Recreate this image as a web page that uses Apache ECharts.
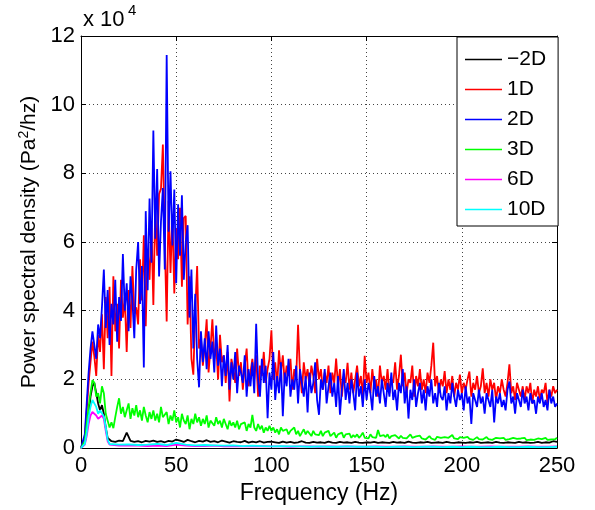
<!DOCTYPE html>
<html><head><meta charset="utf-8">
<script src="https://cdn.jsdelivr.net/npm/echarts@6/dist/echarts.min.js"></script>
<style>html,body{margin:0;padding:0;background:#fff}#c{width:595px;height:510px}</style>
</head><body><div id="c"></div>
<script>
// values in units of 1e4 Pa^2/Hz
var seriesNames = ['\u22122D', '1D', '2D', '3D', '6D', '10D'];
var xTicks = [0, 50, 100, 150, 200, 250];
var yTicks = [0, 2, 4, 6, 8, 10, 12];

// 1 Hz grid for 1D, 2D, 3D
var freqFine = [];
for (var i = 0; i <= 250; i++) freqFine.push(i);

var psd2D = [
0,0.05,0.4,1.3,2.2,2.9,3.4,3.0,2.6,3.6,
3.2,4.1,5.2,3.5,4.6,3.0,4.2,3.6,4.9,3.1,
4.4,3.7,5.65,4.0,4.8,3.4,5.0,4.3,3.2,5.2,
6.0,4.2,5.3,2.35,6.9,4.6,7.27,5.4,9.25,6.1,
8.13,5.0,6.6,7.57,5.2,11.45,6.3,8.06,5.9,7.53,
4.8,7.1,5.6,7.36,4.9,6.0,6.49,3.8,5.2,2.9,
4.49,2.6,1.77,3.4,2.5,3.2,2.3,3.4,2.6,3.1,
2.2,3.57,2.4,2.9,1.8,2.7,2.1,3.0,1.7,2.5,
2.0,2.8,1.6,2.4,2.2,1.9,2.7,1.5,2.3,1.8,
2.5,1.6,3.62,2.0,1.5,2.6,1.9,2.4,0.87,2.2,
1.7,2.8,1.4,2.1,1.6,2.5,0.93,2.2,1.8,2.6,
1.5,2.0,1.7,2.4,1.3,2.3,1.9,1.5,2.1,1.04,
2.2,1.6,1.9,2.5,1.4,0.97,2.0,1.7,2.3,1.3,
1.8,2.2,1.5,1.9,1.2,2.1,0.97,1.7,2.3,1.4,
1.9,1.3,2.0,1.6,1.1,2.2,1.5,1.8,1.2,2.0,
1.4,1.9,1.6,1.1,2.1,1.5,1.8,1.3,2.0,1.6,
1.2,1.9,1.5,2.2,1.4,1.7,1.1,1.9,1.6,2.3,
1.3,1.8,0.86,1.7,1.4,2.0,1.2,1.6,1.9,1.3,
1.7,1.1,1.8,1.5,2.0,1.3,1.6,1.2,1.9,1.5,
1.4,1.8,1.1,1.6,1.3,1.9,1.5,1.2,1.7,1.4,
1.6,1.1,1.8,1.3,1.5,0.7,1.6,1.4,1.2,1.7,
1.3,1.5,1.0,1.6,1.4,1.2,1.7,0.75,1.5,1.3,
1.6,1.2,1.4,1.1,1.7,1.94,1.3,1.5,1.0,1.6,
1.4,1.2,1.7,1.3,1.5,1.1,1.6,1.3,1.4,1.0,
1.5,1.3,1.6,1.2,1.4,1.1,1.7,1.3,1.5,1.2,
1.3];

var psd1D = [
0,0.04,0.3,1.1,1.9,2.5,3.1,2.67,2.1,3.3,
2.8,3.9,2.3,4.4,3.2,4.7,2.1,5.0,3.4,4.2,
2.9,4.9,3.8,4.4,2.8,4.6,3.5,5.3,3.9,4.1,
3.6,5.5,4.3,6.2,3.55,5.8,4.9,6.5,4.17,7.0,
5.6,7.4,7.55,8.84,6.0,3.69,7.2,5.1,6.8,4.5,
6.4,5.5,7.0,4.7,6.7,6.76,3.6,5.0,2.6,2.14,
4.0,5.3,2.9,3.2,2.4,3.0,3.75,2.2,2.9,3.75,
2.6,3.0,2.0,3.3,2.5,2.7,1.9,2.8,1.36,2.6,
2.3,1.9,2.9,2.1,2.5,1.7,2.4,2.9,1.8,2.2,
2.6,2.0,2.7,1.5,2.4,2.1,2.8,1.9,2.3,2.6,
3.43,2.0,2.5,1.8,2.85,2.2,2.7,1.9,2.4,2.1,
2.6,1.7,2.3,2.0,3.59,2.2,1.6,2.5,2.0,2.3,
1.8,2.4,2.1,1.6,2.6,2.0,2.3,1.7,2.2,1.9,
2.4,1.6,2.2,1.9,2.61,1.8,2.3,1.5,2.1,1.9,
2.48,1.7,2.2,1.6,2.0,2.4,1.8,2.1,1.5,2.69,
1.9,2.2,1.6,2.3,1.8,2.0,1.5,2.4,1.9,2.1,
1.7,2.3,1.6,2.0,1.9,2.5,1.7,2.1,2.72,1.8,
2.2,1.6,2.0,1.9,2.4,1.5,2.1,1.8,2.3,1.7,
2.0,1.6,2.2,1.9,2.4,3.07,1.8,2.1,1.6,2.0,
1.8,2.24,1.6,2.0,1.7,2.1,1.5,1.9,1.7,2.14,
1.6,1.9,1.7,2.0,2.23,1.5,1.9,1.7,2.1,1.6,
1.8,2.32,1.6,1.9,1.5,2.0,1.7,1.9,1.4,1.8,
1.6,2.0,1.7,1.5,1.9,2.44,1.6,1.8,1.4,1.9,
1.7,1.5,1.8,1.4,1.8,1.6,1.9,1.3,1.7,1.5,
1.8,1.4,1.7,1.6,1.9,1.3,1.7,1.5,1.8,1.6,
1.7];

var psd3D = [
0,0.02,0.2,0.7,1.2,1.6,1.98,1.9,1.5,1.6,
1.3,1.8,1.6,1.0,0.8,0.6,0.75,0.58,0.9,1.2,
1.45,1.0,1.2,0.9,1.1,1.3,0.85,1.16,0.95,1.25,
0.9,1.1,0.8,1.2,0.95,0.75,1.05,0.85,1.1,0.8,
1.0,0.75,1.2,0.9,0.85,1.05,0.7,0.95,0.8,1.1,
0.75,0.9,0.6,1.0,0.8,0.7,0.95,0.55,0.85,0.7,
1.0,0.75,0.9,0.65,0.85,0.7,0.95,0.6,0.8,0.75,
0.65,0.9,0.7,0.8,0.6,0.85,0.7,0.55,0.8,0.65,
0.75,0.6,0.8,0.55,0.7,0.65,0.75,0.5,0.7,0.6,
0.97,0.6,0.5,0.7,0.55,0.65,0.45,0.6,0.5,0.65,
0.5,0.6,0.45,0.55,0.4,0.6,0.5,0.45,0.55,0.4,
0.5,0.45,0.6,0.4,0.5,0.35,0.45,0.55,0.4,0.5,
0.45,0.35,0.5,0.4,0.45,0.38,0.5,0.35,0.45,0.4,
0.5,0.35,0.4,0.45,0.3,0.4,0.35,0.45,0.3,0.4,
0.35,0.42,0.3,0.38,0.32,0.4,0.3,0.36,0.45,0.3,
0.35,0.28,0.4,0.32,0.36,0.3,0.53,0.35,0.3,0.38,
0.32,0.4,0.28,0.35,0.3,0.38,0.33,0.28,0.36,0.3,
0.35,0.28,0.32,0.4,0.3,0.26,0.34,0.3,0.36,0.28,
0.32,0.25,0.3,0.35,0.28,0.3,0.24,0.33,0.28,0.3,
0.26,0.32,0.28,0.3,0.25,0.38,0.28,0.3,0.26,0.32,
0.28,0.3,0.25,0.33,0.27,0.3,0.24,0.29,0.32,0.26,
0.3,0.25,0.28,0.32,0.26,0.3,0.24,0.28,0.3,0.25,
0.28,0.26,0.3,0.24,0.28,0.26,0.22,0.3,0.25,0.27,
0.24,0.28,0.26,0.3,0.23,0.27,0.25,0.28,0.24,0.26,
0.28,0.23,0.26,0.25,0.3,0.24,0.27,0.25,0.28,0.26,
0.3];

// -2D: 1 Hz up to 14 Hz, then every 2 Hz
var freqM2D = [0,1,2,3,4,5,6,7,8,9,10,11,12,13,14];
for (var f = 16; f <= 250; f += 2) freqM2D.push(f);
var psdM2D = [
0,0.02,0.15,0.5,1.0,1.5,1.8,1.9,1.6,1.3,1.1,1.25,1.0,0.6,0.3,
0.2,0.18,0.22,0.2,0.45,0.21,0.18,0.2,0.17,0.21,0.19,0.22,0.18,0.2,0.17,0.21,0.19,0.25,
0.22,0.18,0.24,0.2,0.17,0.21,0.19,0.23,0.18,0.2,0.17,0.22,0.19,0.16,0.2,0.18,0.17,0.21,0.16,0.19,0.17,0.2,0.16,0.18,0.19,
0.17,0.15,0.19,0.16,0.18,0.15,0.17,0.2,0.16,0.15,0.18,0.16,0.17,0.15,0.19,0.16,0.15,0.18,0.16,0.17,0.15,0.18,0.16,0.15,0.17,
0.16,0.18,0.15,0.17,0.16,0.15,0.18,0.16,0.17,0.15,0.19,0.16,0.15,0.17,0.16,0.18,0.15,0.16,0.17,0.15,0.18,0.16,0.15,0.17,0.16,
0.15,0.17,0.16,0.18,0.15,0.16,0.17,0.15,0.18,0.16,0.15,0.17,0.16,0.15,0.18,0.16,0.17,0.15,0.16,0.18,0.15,0.17,0.16,0.2,0.18];

// 6D and 10D: 1 Hz up to 16 Hz, then every 5 Hz
var freqCoarse = [0,1,2,3,4,5,6,7,8,9,10,11,12,13,14,15,16];
for (var g = 20; g <= 250; g += 5) freqCoarse.push(g);
var psd6D = [
0,0.02,0.1,0.35,0.7,0.95,1.05,1.07,0.95,0.85,0.9,0.95,0.85,0.5,0.2,0.1,0.08,
0.07,0.08,0.07,0.06,0.07,0.06,0.1,0.07,0.06,0.06,0.07,0.05,0.06,0.05,0.05,0.06,
0.05,0.05,0.04,0.05,0.05,0.04,0.05,0.04,0.05,0.04,0.04,0.05,0.04,0.04,0.05,0.04,
0.04,0.05,0.04,0.04,0.05,0.04,0.04,0.05,0.04,0.04,0.04,0.05,0.04,0.04,0.05];
var psd10D = [
0,0.02,0.12,0.45,0.9,1.2,1.4,1.45,1.2,1.0,1.1,1.05,0.93,0.6,0.25,0.12,0.1,
0.1,0.11,0.09,0.1,0.12,0.09,0.15,0.1,0.08,0.09,0.08,0.07,0.08,0.06,0.07,0.06,
0.05,0.06,0.05,0.05,0.04,0.05,0.04,0.04,0.05,0.04,0.04,0.04,0.03,0.04,0.04,0.03,
0.04,0.04,0.03,0.04,0.03,0.04,0.03,0.03,0.04,0.03,0.03,0.04,0.03,0.03,0.04];

function pairs(xs, ys) {
  var out = [];
  for (var k = 0; k < ys.length && k < xs.length; k++) out.push([xs[k], ys[k]]);
  return out;
}

var colors = ['#000000', '#ff0000', '#0000ff', '#00ff00', '#ff00ff', '#00ffff'];
var dataSets = [
  pairs(freqM2D, psdM2D), pairs(freqFine, psd1D), pairs(freqFine, psd2D),
  pairs(freqFine, psd3D), pairs(freqCoarse, psd6D), pairs(freqCoarse, psd10D)
];

var FONT = '"Liberation Sans", Arial, Helvetica, sans-serif';
var series = seriesNames.map(function (n, idx) {
  return {
    name: n, type: 'line', data: dataSets[idx], symbol: 'none', showSymbol: false,
    color: colors[idx],
    lineStyle: { color: colors[idx], width: 1.8 }, itemStyle: { color: colors[idx] },
    animation: false, z: 2 + idx
  };
});

var chart = echarts.init(document.getElementById('c'), null, { renderer: 'canvas' });
chart.setOption({
  backgroundColor: '#fff',
  animation: false,
  color: colors,
  grid: { left: 81, right: 38, top: 36, bottom: 60, show: false },
  xAxis: [{
    type: 'value', min: xTicks[0], max: xTicks[xTicks.length - 1], interval: 50,
    name: 'Frequency (Hz)', nameLocation: 'middle', nameGap: 28,
    nameTextStyle: { fontFamily: FONT, fontSize: 23, color: '#000' },
    axisLine: { show: true, onZero: false, lineStyle: { color: '#000', width: 1 } },
    axisTick: { show: true, inside: true, length: 5, lineStyle: { color: '#000' } },
    axisLabel: { fontFamily: FONT, fontSize: 22, color: '#000', margin: 7 },
    splitLine: { show: true, lineStyle: { color: '#444', type: [1, 3], width: 1 } }
  }, {
    type: 'value', position: 'top', min: 0, max: 250, interval: 50,
    axisLine: { show: true, onZero: false, lineStyle: { color: '#000', width: 1 } },
    axisTick: { show: true, inside: true, length: 5, lineStyle: { color: '#000' } },
    axisLabel: { show: false }, splitLine: { show: false }
  }],
  yAxis: [{
    type: 'value', min: yTicks[0], max: yTicks[yTicks.length - 1], interval: 2,
    name: 'Power spectral density (Pa{sup|2}/hz)', nameLocation: 'middle', nameGap: 29,
    nameTextStyle: { fontFamily: FONT, fontSize: 21, color: '#000',
      rich: { sup: { fontFamily: FONT, fontSize: 14, color: '#000', verticalAlign: 'top', padding: [0, 0, 9, 0] } } },
    axisLine: { show: true, onZero: false, lineStyle: { color: '#000', width: 1 } },
    axisTick: { show: true, inside: true, length: 5, lineStyle: { color: '#000' } },
    axisLabel: { fontFamily: FONT, fontSize: 22, color: '#000', margin: 6 },
    splitLine: { show: true, lineStyle: { color: '#444', type: [1, 3], width: 1 } }
  }, {
    type: 'value', position: 'right', min: 0, max: 12, interval: 2,
    axisLine: { show: true, onZero: false, lineStyle: { color: '#000', width: 1 } },
    axisTick: { show: true, inside: true, length: 5, lineStyle: { color: '#000' } },
    axisLabel: { show: false }, splitLine: { show: false }
  }],
  legend: {
    data: seriesNames, orient: 'vertical', left: 457, top: 37,
    backgroundColor: '#fff', borderColor: '#000', borderWidth: 1,
    padding: [12, 12, 6, 8], itemGap: 9, itemWidth: 37, itemHeight: 14,
    icon: 'path://M0,0L37,0L37,1.3L0,1.3Z', symbolKeepAspect: true,
    textStyle: { fontFamily: FONT, fontSize: 21, color: '#000', lineHeight: 21 }
  },
  graphic: [
    { type: 'text', left: 83, top: 9, style: { text: 'x 10', font: '22px ' + FONT, fill: '#000' } },
    { type: 'text', left: 128, top: 3, style: { text: '4', font: '15px ' + FONT, fill: '#000' } }
  ],
  series: series
});
</script></body></html>
